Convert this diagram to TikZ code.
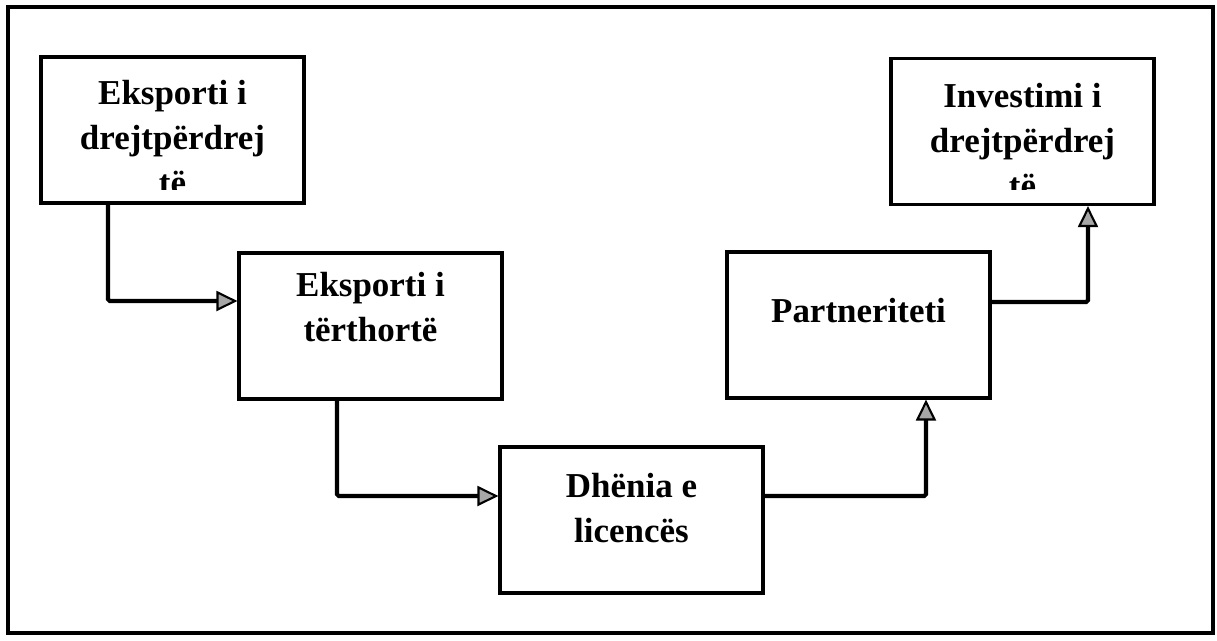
\documentclass[tikz,border=0pt]{standalone}
\usepackage{fontspec}
\setmainfont{Liberation Serif}
\usetikzlibrary{arrows.meta,positioning}

\tikzset{
  stage/.style={draw, line width=1.8pt, minimum width=5.26cm, minimum height=2.92cm, inner sep=0pt},
  stagetext/.style={align=center, inner sep=0pt, anchor=north, font=\bfseries\fontsize{19.9}{25.6}\selectfont},
  flow/.style={line width=2.3pt, rounded corners=1pt, -{Triangle[length=0.42cm, width=0.4cm, fill=gray!70, line width=1.2pt]}},
}

\begin{document}
\begin{tikzpicture}[x=0.02cm, y=-0.02cm]
  \useasboundingbox (0,0) rectangle (1217,640);
  % frame
  \draw[line width=1.8pt] (8,7) rectangle (1213,633);

  % boxes
  \node[stage] (direct) at (172.5,130) {};
  \node[stage] (indirect) at (370.5,326) {};
  \node[stage] (licence) at (631.5,520) {};
  \node[stage] (partner) at (858.5,325) {};
  \node[stage] (invest) at (1022.5,131.5) {};

  % texts (last line cut off by the box)
  \begin{scope}
    \clip (direct.north west) rectangle ([yshift=0.3cm]direct.south east);
    \node[stagetext] (direct-t) at ([yshift=-0.48cm]direct.north) {Eksporti i\\drejtpërdrej\\të};
  \end{scope}
  \begin{scope}
    \clip (invest.north west) rectangle ([yshift=0.34cm]invest.south east);
    \node[stagetext] (invest-t) at ([yshift=-0.52cm]invest.north) {Investimi i\\drejtpërdrej\\të};
  \end{scope}
  \node[stagetext] (indirect-t) at ([yshift=-0.4cm]indirect.north) {Eksporti i\\tërthortë};
  \node[stagetext] (licence-t) at ([yshift=-0.54cm]licence.north) {Dhënia e\\licencës};
  \node[stagetext] (partner-t) at ([yshift=-0.94cm]partner.north) {Partneriteti};

  % connectors
  \draw[flow] ([xshift=-1.29cm]direct.south) |- ([yshift=0.5cm]indirect.west);
  \draw[flow] ([xshift=-0.67cm]indirect.south) |- ([yshift=0.48cm]licence.west);
  \draw[flow] ([yshift=0.48cm]licence.east) -| ([xshift=1.35cm]partner.south);
  \draw[flow] ([yshift=0.46cm]partner.east) -| ([xshift=1.31cm]invest.south);
\end{tikzpicture}
\end{document}
